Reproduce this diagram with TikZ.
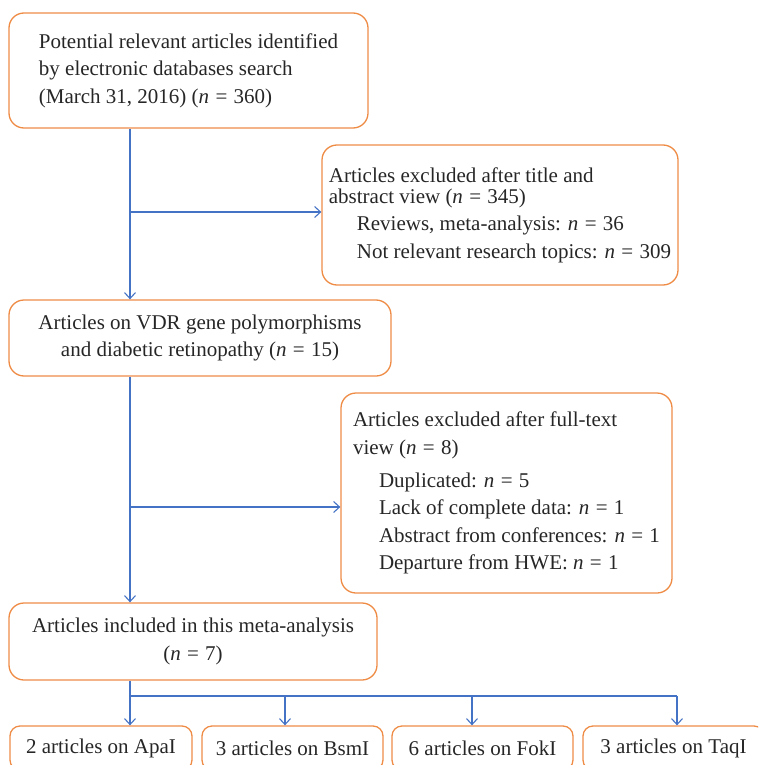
\documentclass[tikz,border=0pt]{standalone}
\usepackage{fontspec}
\setmainfont{Liberation Serif}
\usetikzlibrary{arrows.meta}
\definecolor{boxorange}{RGB}{238,140,70}
\definecolor{lineblue}{RGB}{68,114,196}
\newcommand{\nval}[1]{\textit{n}\hspace{0.3em}=\hspace{0.3em}#1}
\begin{document}
\begin{tikzpicture}[x=1pt,y=-1pt,
  box/.style={draw=boxorange, line width=1.3pt, rounded corners=15pt, inner sep=0pt,
    font=\fontsize{21}{27.5}\selectfont, text=black!85},
  smallbox/.style={box, rounded corners=10pt},
  conn/.style={draw=lineblue, line width=1.2pt, -{Straight Barb[length=6pt,width=11pt,line width=1.1pt]}},
  plain/.style={draw=lineblue, line width=1.2pt}]
\useasboundingbox (0,0) rectangle (758,765);
\clip (0,0) rectangle (758,765);
\node[box, minimum width=359pt, minimum height=115pt, align=left] (box1) at (188.5,70.5)
  {Potential relevant articles identified\\ by electronic databases search\\ (March 31, 2016) (\nval{360})};
\node[box, minimum width=356pt, minimum height=140pt, align=left] (box2) at (500,215)
  {Articles excluded after title and\\[-6.5pt] abstract view (\nval{345})\\
   \hspace*{28pt}Reviews, meta-analysis: \nval{36}\\
   \hspace*{28pt}Not relevant research topics: \nval{309}};
\node[box, minimum width=382pt, minimum height=76pt, align=center] (box3) at (200,338)
  {Articles on VDR gene polymorphisms\\ and diabetic retinopathy (\nval{15})};
\node[box, minimum width=331pt, minimum height=200pt, align=left] (box4) at (506.5,493)
  {Articles excluded after full-text\\ view (\nval{8})\\[5.5pt]
   \hspace*{26pt}Duplicated: \nval{5}\\
   \hspace*{26pt}Lack of complete data: \nval{1}\\
   \hspace*{26pt}Abstract from conferences: \nval{1}\\
   \hspace*{26pt}Departure from HWE: \nval{1}};
\node[box, minimum width=368pt, minimum height=77pt, align=center] (box5) at (193,641.5)
  {Articles included in this meta-analysis\\ (\nval{7})};
\node[smallbox, minimum width=182pt, minimum height=44pt] (boxA) at (101,748) {2 articles on ApaI};
\node[smallbox, minimum width=181pt, minimum height=44pt] (boxB) at (292.5,748) {3 articles on BsmI};
\node[smallbox, minimum width=181pt, minimum height=44pt] (boxC) at (482.5,748) {6 articles on FokI};
\node[smallbox, minimum width=181pt, minimum height=44pt] (boxD) at (673.5,748) {3 articles on TaqI};
\coordinate (s1) at (130,212);
\coordinate (s2) at (130,507);
\coordinate (bus) at (130,696);
\coordinate (tB) at (285,696);
\coordinate (tC) at (472,696);
\coordinate (tD) at (677,696);
\draw[conn] (box1.south -| s1) -- (box3.north -| s1);
\draw[conn] (s1) -- (s1 -| box2.west);
\draw[conn] (box3.south -| s2) -- (box5.north -| s2);
\draw[conn] (s2) -- (s2 -| box4.west);
\draw[plain] (box5.south -| bus) -- (bus) -- (tD);
\draw[conn] (bus) -- (boxA.north -| bus);
\draw[conn] (tB) -- (tB |- boxB.north);
\draw[conn] (tC) -- (tC |- boxC.north);
\draw[conn] (tD) -- (tD |- boxD.north);
\end{tikzpicture}
\end{document}
